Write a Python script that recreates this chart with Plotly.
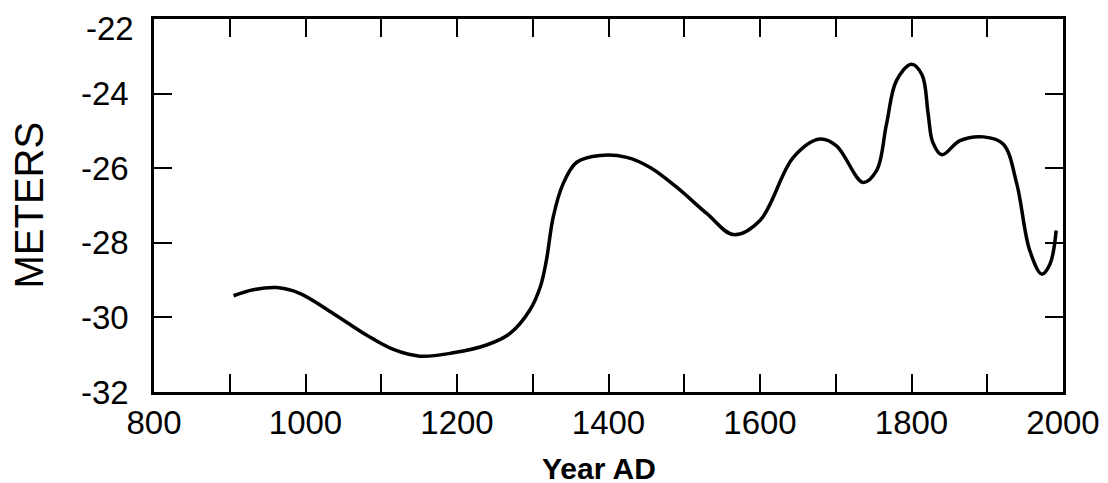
import plotly.graph_objects as go

# Data
years = [905, 931, 962, 993, 1037, 1081, 1116, 1151, 1195, 1239, 1270, 1296,
         1310, 1318, 1327, 1340, 1358, 1389, 1424, 1455, 1490, 1530, 1565,
         1600, 1644, 1679, 1701, 1736, 1754, 1767, 1780, 1800, 1814, 1822,
         1828, 1840, 1864, 1895, 1921, 1939, 1956, 1972, 1983, 1991]
meters = [-29.42, -29.26, -29.20, -29.36, -29.90, -30.48, -30.86, -31.04,
          -30.95, -30.74, -30.43, -29.81, -29.18, -28.47, -27.31, -26.42,
          -25.84, -25.66, -25.71, -25.98, -26.51, -27.22, -27.78, -27.40,
          -25.71, -25.22, -25.40, -26.38, -26.06, -24.82, -23.66, -23.21,
          -23.50, -24.55, -25.30, -25.64, -25.26, -25.16, -25.35, -26.42,
          -28.20, -28.84, -28.56, -27.67]

x_tickvals = [800, 900, 1000, 1100, 1200, 1300, 1400, 1500, 1600, 1700, 1800, 1900, 2000]
x_ticktext = ["800", "", "1000", "", "1200", "", "1400", "", "1600", "", "1800", "", "2000"]
y_tickvals = [-32, -30, -28, -26, -24, -22]
# the top label sits slightly below its tick in the reference; drawn separately
y_ticktext = ["-32", "-30", "-28", "-26", "-24", ""]
y_top_label = "-22"

x_title = "Year AD"
y_title = "METERS"

FONT = "Liberation Sans, Arial, Helvetica, sans-serif"
TICK_SIZE = 33

fig = go.Figure()
fig.add_trace(go.Scatter(
    x=years, y=meters, mode="lines",
    line=dict(color="black", width=3.5, shape="spline", smoothing=1.0),
    showlegend=False, hoverinfo="skip",
))

axis_common = dict(
    showline=True, linecolor="black", linewidth=2.5, mirror="allticks",
    ticks="inside", ticklen=18, tickwidth=2, tickcolor="black",
    showgrid=False, zeroline=False, automargin=False,
    tickfont=dict(family=FONT, size=TICK_SIZE, color="black"),
)

fig.update_xaxes(range=[800, 2000], tickmode="array", tickvals=x_tickvals,
                 ticktext=x_ticktext, ticklabelstandoff=0, **axis_common)
fig.update_yaxes(range=[-32, -22], tickmode="array", tickvals=y_tickvals,
                 ticktext=y_ticktext, ticklabelstandoff=16, **axis_common)

fig.add_annotation(text=y_top_label, xref="paper", yref="paper", x=0, y=1,
                   xanchor="right", yanchor="middle", xshift=-19, yshift=-9,
                   borderpad=0,
                   showarrow=False, font=dict(family=FONT, size=TICK_SIZE, color="black"))
fig.add_annotation(text=y_title, xref="paper", yref="paper", x=0, y=0.5,
                   xanchor="center", yanchor="middle", xshift=-126, textangle=-90,
                   showarrow=False, font=dict(family=FONT, size=40, color="black"))
fig.add_annotation(text="<b>" + x_title + "</b>", xref="paper", yref="paper",
                   x=0.4895, y=0, xanchor="center", yanchor="middle", yshift=-76,
                   showarrow=False, font=dict(family=FONT, size=30, color="black"))

# the page body adds an 8px margin; margins are shifted to compensate
fig.update_layout(
    width=1108, height=483,
    margin=dict(l=146, r=53, t=11, b=99, pad=0, autoexpand=False),
    paper_bgcolor="white", plot_bgcolor="white",
)

fig.write_html("out.html")
